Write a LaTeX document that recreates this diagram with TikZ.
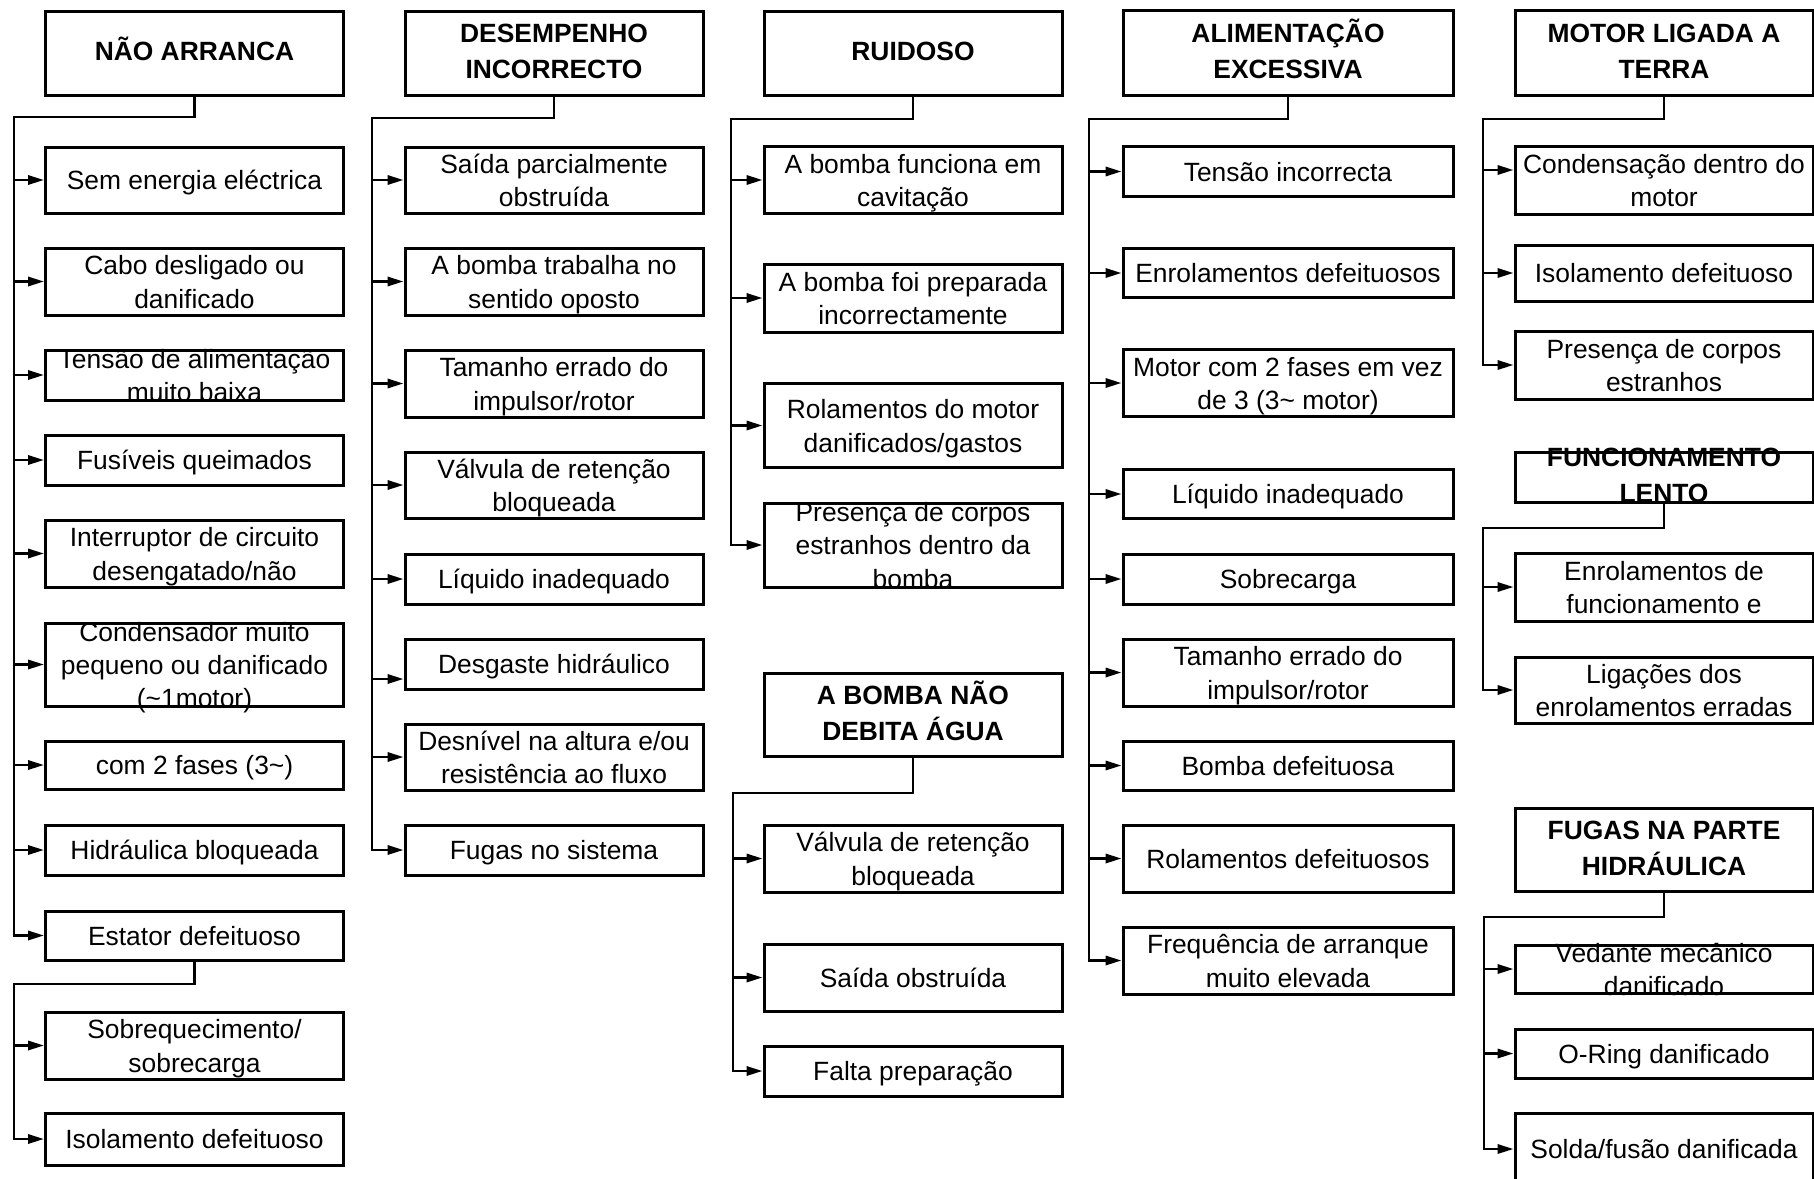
\documentclass[tikz,border=0pt]{standalone}
\usepackage{fontspec}
\setmainfont{Liberation Sans}
\usetikzlibrary{arrows.meta}

\newdimen\unidade
\unidade=0.5pt
\def\fracprof{0.2}
% line prop for even vertical centring
\newcommand{\escora}{\rule[-\fracprof\baselineskip]{0pt}{\baselineskip}}
% fixed size box text: [width]{height}{text}, sizes in px
\newcommand{\caixatexto}[3][298]{\parbox[c][#2\unidade][c]{#1\unidade}{\centering\escora #3\escora}}

\begin{document}
\begin{tikzpicture}[x=0.5pt, y=-0.5pt,
    caixa/.style={draw, line width=1.5pt, inner sep=0pt, font=\fontsize{13.2}{16.6}\selectfont\def\fracprof{0.2}},
    titulo/.style={caixa, font=\fontsize{13.2}{18}\selectfont\bfseries\def\fracprof{0.28}},
    linha/.style={line width=1.3pt},
    seta/.style={linha, -{Triangle[length=8pt,width=4.6pt]}}]

  \useasboundingbox (0,0) rectangle (1814,1178);

  % coluna 1
  \begin{scope}[every node/.style={caixa}]
    \node[titulo] (h1) at (194.5,53) {\caixatexto{84}{NÃO ARRANCA}};
    \node (a1)  at (194.5,180)    {\caixatexto{66}{Sem energia eléctrica}};
    \node (a2)  at (194.5,281.5)  {\caixatexto{67}{Cabo desligado ou\\danificado}};
    \node (a3)  at (194.5,375)    {\caixatexto{50}{Tensão de alimentação\\muito baixa}};
    \node (a4)  at (194.5,460)    {\caixatexto{50}{Fusíveis queimados}};
    \node (a5)  at (194.5,553.5)  {\caixatexto{67}{Interruptor de circuito\\desengatado/não}};
    \node (a6)  at (194.5,664.5)  {\caixatexto{83}{Condensador muito\\pequeno ou danificado\\(\textasciitilde1motor)}};
    \node (a7)  at (194.5,765)    {\caixatexto{48}{com 2 fases (3\textasciitilde)}};
    \node (a8)  at (194.5,850)    {\caixatexto{50}{Hidráulica bloqueada}};
    \node (a9)  at (194.5,935.5)  {\caixatexto{49}{Estator defeituoso}};
    \node (a10) at (194.5,1045.5) {\caixatexto{67}{Sobrequecimento/\\sobrecarga}};
    \node (a11) at (194.5,1139)   {\caixatexto{52}{Isolamento defeituoso}};
  \end{scope}

  % coluna 2
  \begin{scope}[every node/.style={caixa}]
    \node[titulo] (h2) at (554,53) {\caixatexto{84}{DESEMPENHO\\INCORRECTO}};
    \node (b1) at (554,180)   {\caixatexto{66}{Saída parcialmente\\obstruída}};
    \node (b2) at (554,281.5) {\caixatexto{67}{A bomba trabalha no\\sentido oposto}};
    \node (b3) at (554,383.5) {\caixatexto{67}{Tamanho errado do\\impulsor/rotor}};
    \node (b4) at (554,485)   {\caixatexto{66}{Válvula de retenção\\bloqueada}};
    \node (b5) at (554,579)   {\caixatexto{50}{Líquido inadequado}};
    \node (b6) at (554,664)   {\caixatexto{50}{Desgaste hidráulico}};
    \node (b7) at (554,757)   {\caixatexto{66}{Desnível na altura e/ou\\resistência ao fluxo}};
    \node (b8) at (554,850)   {\caixatexto{50}{Fugas no sistema}};
  \end{scope}

  % coluna 3
  \begin{scope}[every node/.style={caixa}]
    \node[titulo] (h3) at (913,53) {\caixatexto{84}{RUIDOSO}};
    \node (c1) at (913,180)   {\caixatexto{67}{A bomba funciona em\\cavitação}};
    \node (c2) at (913,298)   {\caixatexto{68}{A bomba foi preparada\\incorrectamente}};
    \node (c3) at (913,425.5) {\caixatexto{84}{Rolamentos do motor\\danificados/gastos}};
    \node (c4) at (913,545)   {\caixatexto{84}{Presença de corpos\\estranhos dentro da\\bomba}};
    \node[titulo] (h4) at (913,714.5) {\caixatexto{83}{A BOMBA NÃO\\DEBITA ÁGUA}};
    \node (d1) at (913,858.5) {\caixatexto{67}{Válvula de retenção\\bloqueada}};
    \node (d2) at (913,977.5) {\caixatexto{67}{Saída obstruída}};
    \node (d3) at (913,1071)  {\caixatexto{50}{Falta preparação}};
  \end{scope}

  % coluna 4
  \begin{scope}[every node/.style={caixa}]
    \node[titulo] (h5) at (1288,53) {\caixatexto[330]{85}{ALIMENTAÇÃO\\EXCESSIVA}};
    \node (e1) at (1288,171.5) {\caixatexto[330]{50}{Tensão incorrecta}};
    \node (e2) at (1288,273)   {\caixatexto[330]{49}{Enrolamentos defeituosos}};
    \node (e3) at (1288,383)   {\caixatexto[330]{67}{Motor com 2 fases em vez\\de 3 (3\textasciitilde{} motor)}};
    \node (e4) at (1288,494)   {\caixatexto[330]{49}{Líquido inadequado}};
    \node (e5) at (1288,579)   {\caixatexto[330]{50}{Sobrecarga}};
    \node (e6) at (1288,672.5) {\caixatexto[330]{67}{Tamanho errado do\\impulsor/rotor}};
    \node (e7) at (1288,765.5) {\caixatexto[330]{49}{Bomba defeituosa}};
    \node (e8) at (1288,858.5) {\caixatexto[330]{67}{Rolamentos defeituosos}};
    \node (e9) at (1288,960.5) {\caixatexto[330]{67}{Frequência de arranque\\muito elevada}};
  \end{scope}

  % coluna 5
  \begin{scope}[every node/.style={caixa}]
    \node[titulo] (h6) at (1664,52.5) {\caixatexto{85}{MOTOR LIGADA A\\TERRA}};
    \node (f1) at (1664,180) {\caixatexto{68}{Condensação dentro do\\motor}};
    \node (f2) at (1664,273) {\caixatexto{56}{Isolamento defeituoso}};
    \node (f3) at (1664,365) {\caixatexto{68}{Presença de corpos\\estranhos}};
    \node[titulo] (h7) at (1664,477) {\caixatexto{50}{FUNCIONAMENTO\\LENTO}};
    \node (g1) at (1664,587) {\caixatexto{68}{Enrolamentos de\\funcionamento e}};
    \node (g2) at (1664,690) {\caixatexto{66}{Ligações dos\\enrolamentos erradas}};
    \node[titulo] (h8) at (1664,849.5) {\caixatexto{83}{FUGAS NA PARTE\\HIDRÁULICA}};
    \node (k1) at (1664,969)    {\caixatexto{48}{Vedante mecânico\\danificado}};
    \node (k2) at (1664,1053.5) {\caixatexto{49}{O-Ring danificado}};
    \node (k3) at (1664,1149)   {\caixatexto{72}{Solda/fusão danificada}};
  \end{scope}

  % barramentos
  \coordinate (p1) at (14,117);
  \coordinate (p2) at (14,984);
  \coordinate (p3) at (372,118);
  \coordinate (p4) at (731,119);
  \coordinate (p5) at (733,793);
  \coordinate (p6) at (1089,119);
  \coordinate (p7) at (1483,119);
  \coordinate (p8) at (1483,528);
  \coordinate (p9) at (1484,917);
  % pontos de chegada fora do centro
  \coordinate (b6e) at ([yshift=-7.5pt]b6.west);
  \coordinate (f1e) at ([yshift=5pt]f1.west);

  \draw[seta] (h1.south) |- (p1) |- (a9.west);
  \foreach \n in {a1,a2,a3,a4,a5,a6,a7,a8}
    \draw[seta] (p1 |- \n.west) -- (\n.west);
  \draw[seta] (a9.south) |- (p2) |- (a11.west);
  \draw[seta] (p2 |- a10.west) -- (a10.west);

  \draw[seta] (h2.south) |- (p3) |- (b8.west);
  \foreach \n in {b1,b2,b3,b4,b5,b7}
    \draw[seta] (p3 |- \n.west) -- (\n.west);
  \draw[seta] (p3 |- b6e) -- (b6e);

  \draw[seta] (h3.south) |- (p4) |- (c4.west);
  \foreach \n in {c1,c2,c3}
    \draw[seta] (p4 |- \n.west) -- (\n.west);
  \draw[seta] (h4.south) |- (p5) |- (d3.west);
  \foreach \n in {d1,d2}
    \draw[seta] (p5 |- \n.west) -- (\n.west);

  \draw[seta] (h5.south) |- (p6) |- (e9.west);
  \foreach \n in {e1,e2,e3,e4,e5,e6,e7,e8}
    \draw[seta] (p6 |- \n.west) -- (\n.west);

  \draw[seta] (h6.south) |- (p7) |- (f3.west);
  \draw[seta] (p7 |- f1e) -- (f1e);
  \draw[seta] (p7 |- f2.west) -- (f2.west);
  \draw[seta] (h7.south) |- (p8) |- (g2.west);
  \draw[seta] (p8 |- g1.west) -- (g1.west);
  \draw[seta] (h8.south) |- (p9) |- (k3.west);
  \foreach \n in {k1,k2}
    \draw[seta] (p9 |- \n.west) -- (\n.west);
\end{tikzpicture}
\end{document}
